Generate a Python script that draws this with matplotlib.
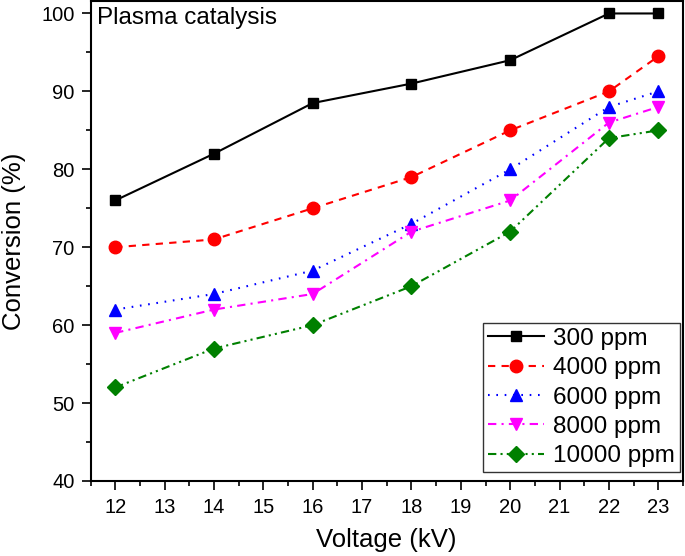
import matplotlib
matplotlib.use("Agg")
import matplotlib.pyplot as plt
from matplotlib.ticker import MultipleLocator

plt.rcParams["font.family"] = ["Liberation Sans", "DejaVu Sans"]

voltage = [12, 14, 16, 18, 20, 22, 23]
conv_300 = [76, 82, 88.5, 91, 94, 100, 100]
conv_4000 = [70, 71, 75, 79, 85, 90, 94.5]
conv_6000 = [62, 64, 67, 73, 80, 88, 90]
conv_8000 = [59, 62, 64, 72, 76, 86, 88]
conv_10000 = [52, 57, 60, 65, 72, 84, 85]

labels = ["300 ppm", "4000 ppm", "6000 ppm", "8000 ppm", "10000 ppm"]
series = [conv_300, conv_4000, conv_6000, conv_8000, conv_10000]
colors = ["black", "red", "blue", "magenta", "green"]
markers = ["s", "o", "^", "v", "D"]
styles = ["-", (0, (3.5, 3)), (0, (0.8, 3.2)), (0, (4, 2.5, 1, 2.5)),
          (0, (4, 2, 1, 2, 1, 2))]
msizes = [7.5, 9, 9, 9, 8]

W, H = 685, 556
L, R, T, B = 90.5, 683, 1, 481
fig = plt.figure(figsize=(W / 100, H / 100), dpi=100)
ax = fig.add_axes([L / W, 1 - B / H, (R - L) / W, (B - T) / H])

for y, lab, c, m, ls, ms in zip(series, labels, colors, markers, styles, msizes):
    ax.plot(voltage, y, color=c, marker=m, linestyle=ls, linewidth=1.5,
            markersize=ms, label=lab)

ax.set_xlim(11.5, 23.5)
ax.set_ylim(40, 101.6)
ax.xaxis.set_major_locator(MultipleLocator(1))
ax.xaxis.set_minor_locator(MultipleLocator(0.5))
ax.yaxis.set_major_locator(MultipleLocator(10))
ax.yaxis.set_minor_locator(MultipleLocator(5))
ax.tick_params(which="major", direction="out", length=6.5, width=1.2, labelsize=14.5)
ax.tick_params(axis="x", which="major", pad=6)
ax.tick_params(axis="y", which="major", pad=5)
ax.tick_params(which="minor", direction="out", length=3.5, width=1.2)
for sp in ax.spines.values():
    sp.set_linewidth(1.5)

ax.set_xlabel("Voltage (kV)", fontsize=18.5, labelpad=8)
ax.set_ylabel("Conversion (%)", fontsize=18.5, labelpad=11)
ax.text(0.011, 0.988, "Plasma catalysis", transform=ax.transAxes,
        ha="left", va="top", fontsize=17.5)

# legend frame corner at (680, 472) px
anchor = ((680 - L) / (R - L), (B - 472) / (B - T))
leg = ax.legend(loc="lower right", bbox_to_anchor=anchor, borderaxespad=0,
                fontsize=17.5, frameon=True, fancybox=False, edgecolor="black",
                handlelength=2.3, borderpad=0.2, labelspacing=0.3,
                handletextpad=0.4)
leg.get_frame().set_linewidth(1.0)

fig.savefig("out.png", dpi=100)
